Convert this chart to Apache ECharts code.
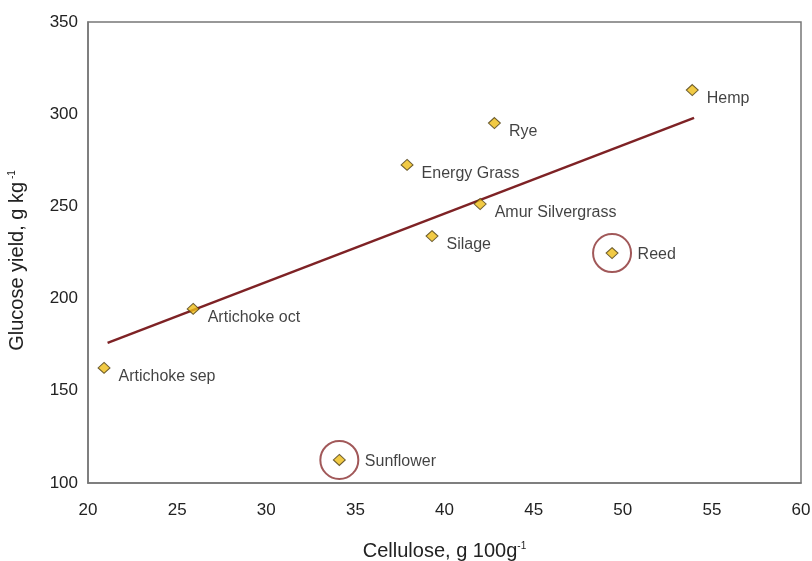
<!DOCTYPE html>
<html><head><meta charset="utf-8">
<script src="https://cdn.jsdelivr.net/npm/echarts@6/dist/echarts.min.js"></script>
<style>html,body{margin:0;padding:0;background:#fff}#c{width:812px;height:561px}</style>
</head><body><div id="c"></div>
<script>
const names = ['Artichoke sep','Artichoke oct','Sunflower','Energy Grass','Silage','Amur Silvergrass','Rye','Reed','Hemp'];
const cellulose = [20.9, 25.9, 34.1, 37.9, 39.3, 42.0, 42.8, 49.4, 53.9];
const glucose = [162.4, 194.4, 112.5, 272.5, 233.9, 251.3, 295.2, 224.7, 313.1];
const trendX = [21.1, 54.0];
const trendY = [176, 298];
const highlighted = ['Sunflower','Reed'];
const xTicks = [20,25,30,35,40,45,50,55,60];
const yTicks = [100,150,200,250,300,350];

const font = "'Liberation Sans', Arial, sans-serif";
const pts = names.map((n,i)=>{
  const hl = highlighted.includes(n);
  return {value:[cellulose[i], glucose[i]], name:n,
    label:{offset: hl ? [14,2] : [3,9]}};
});
const circles = names.map((n,i)=>highlighted.includes(n)?[cellulose[i],glucose[i]]:null).filter(Boolean);
const nameRich = {a:{fontSize:20, color:'#222', fontFamily:font}, s:{fontSize:10, color:'#222', fontFamily:font, verticalAlign:'top', padding:[0,0,10,0]}};

const chart = echarts.init(document.getElementById('c'), null, {renderer:'canvas'});
chart.setOption({
  animation:false,
  backgroundColor:'#fff',
  grid:{left:88, top:22, right:11, bottom:78, show:true, borderColor:'#777', borderWidth:1.5, outerBoundsMode:'none', containLabel:false},
  xAxis:{type:'value', min:xTicks[0], max:xTicks[xTicks.length-1], interval:5,
    axisLine:{show:true, lineStyle:{color:'#777', width:1.5}}, axisTick:{show:false}, splitLine:{show:false},
    axisLabel:{color:'#222', fontSize:17, fontFamily:font, margin:19},
    name:'{a|Cellulose, g 100g}{s|-1}', nameLocation:'middle', nameGap:58,
    nameTextStyle:{rich:nameRich}},
  yAxis:{type:'value', min:yTicks[0], max:yTicks[yTicks.length-1], interval:50,
    axisLine:{show:true, lineStyle:{color:'#777', width:1.5}}, axisTick:{show:false}, splitLine:{show:false},
    axisLabel:{color:'#222', fontSize:17, fontFamily:font, margin:10},
    name:'{a|Glucose yield, g kg}{s| -1}', nameLocation:'middle', nameGap:61,
    nameTextStyle:{rich:nameRich, padding:[0,16,0,0]}},
  series:[
    {type:'line', data:trendX.map((x,i)=>[x,trendY[i]]), symbol:'none', z:2,
      lineStyle:{color:'#7e2225', width:2.5}},
    {type:'scatter', data:circles, symbol:'circle', symbolSize:38, z:3,
      itemStyle:{color:'rgba(0,0,0,0)', borderColor:'#8a2e30', borderWidth:2}},
    {type:'scatter', data:pts, symbol:'diamond', symbolSize:[12,11], z:4,
      itemStyle:{color:'#eebd16', borderColor:'#4a3b14', borderWidth:1},
      label:{show:true, position:'right', formatter:p=>p.name, color:'#111', fontSize:16, fontFamily:font}}
  ]
});
</script></body></html>
